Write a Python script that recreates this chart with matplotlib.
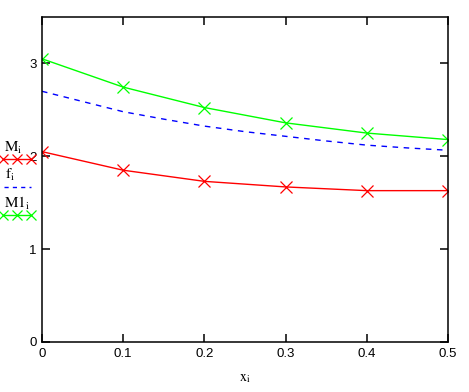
import numpy as np
import matplotlib
matplotlib.use("Agg")
import matplotlib.pyplot as plt
from matplotlib.lines import Line2D

plt.rcParams['mathtext.fontset'] = 'stix'

x = [0.0, 0.1, 0.2, 0.3, 0.4, 0.5]
M = [2.05, 1.85, 1.73, 1.67, 1.63, 1.63]
M1 = [3.05, 2.745, 2.525, 2.36, 2.25, 2.18]
xf = [0.0, 0.05, 0.1, 0.15, 0.2, 0.25, 0.3, 0.35, 0.4, 0.45, 0.5]
f = [2.70, 2.59, 2.48, 2.40, 2.325, 2.265, 2.215, 2.165, 2.12, 2.09, 2.065]
xticks = [0, 0.1, 0.2, 0.3, 0.4, 0.5]
xticklabels = ['0', '0.1', '0.2', '0.3', '0.4', '0.5']
yticks = [0, 1, 2, 3]

W, H = 469, 392
fig = plt.figure(figsize=(W / 100, H / 100), dpi=100)
ax = fig.add_axes([42 / W, 1 - 342 / H, (448 - 42) / W, (342 - 17) / H])

red = '#ff0000'
green = '#00ff00'
blue = '#0000ff'

ax.plot(x, M, color=red, lw=1, marker='x', ms=8, mew=0.9)
ax.plot(xf, f, color=blue, lw=1, ls=(0, (4, 4)))
ax.plot(x, M1, color=green, lw=1, marker='x', ms=8, mew=0.9)

ax.set_xlim(0, 0.5)
ax.set_ylim(0, 3.5)
ax.set_xticks(xticks)
ax.set_xticklabels(xticklabels)
ax.set_yticks(yticks)
ax.tick_params(direction='in', length=6, width=1.1, top=True, right=True,
               labelsize=9.5, pad=4, colors='black')
for s in ax.spines.values():
    s.set_linewidth(1.1)
for lab in ax.get_xticklabels() + ax.get_yticklabels():
    lab.set_fontfamily('Liberation Sans')

ax.set_xlabel(r'$\mathrm{x}_\mathrm{i}$', fontsize=10, labelpad=8)

# legend drawn at the left, outside the axes
def fx(px):
    return px / W

def fy(py):
    return 1 - py / H

fig.text(fx(4), fy(148), r'$\mathrm{M}_\mathrm{i}$', fontsize=11, va='center', ha='left')
fig.add_artist(Line2D([fx(3), fx(17), fx(31)], [fy(159)] * 3, color=red, lw=1,
                      marker='x', ms=7, mew=0.9, transform=fig.transFigure))
fig.text(fx(5), fy(175), r'$\mathrm{f}_\mathrm{i}$', fontsize=11, va='center', ha='left')
fig.add_artist(Line2D([fx(4), fx(31)], [fy(187)] * 2, color=blue, lw=1,
                      ls=(0, (3, 3)), transform=fig.transFigure))
fig.text(fx(4), fy(203), r'$\mathrm{M1}_\mathrm{i}$', fontsize=11, va='center', ha='left')
fig.add_artist(Line2D([fx(3), fx(17), fx(31)], [fy(215)] * 3, color=green, lw=1,
                      marker='x', ms=7, mew=0.9, transform=fig.transFigure))

fig.savefig('out.png', dpi=100)
